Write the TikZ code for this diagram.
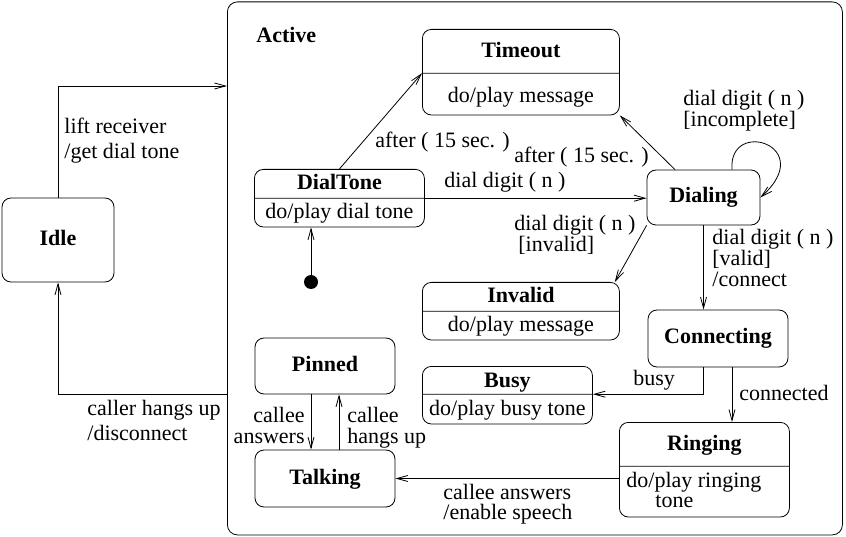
\documentclass[tikz,border=0pt]{standalone}
\usepackage{fontspec}
\setmainfont{Liberation Serif}
\usetikzlibrary{arrows.meta,shapes.multipart}
\newcommand\figfont{\fontsize{22}{21}\selectfont}
\newcommand\partstrut[2]{\rule[-#2pt]{0pt}{\dimexpr#1pt+#2pt\relax}}

\begin{document}
\begin{tikzpicture}[
  x=1pt, y=-1pt,
  line width=0.8pt,
  >={Straight Barb[length=11pt,width=6pt]},
  font=\figfont,
  sstate/.style={draw, rounded corners=9pt, inner sep=0pt, text height=15pt, text depth=4pt, font=\figfont\bfseries},
  cstate/.style={draw, rounded corners=9pt, rectangle split, rectangle split parts=2, inner xsep=2pt, inner ysep=0pt, anchor=north west},
  lbl/.style={inner sep=0pt, align=left, anchor=base west},
  node distance=112.5pt
]
\useasboundingbox (0,0) rectangle (846,537);

% composite state
\node[draw, rounded corners=10pt, minimum width=615pt, minimum height=533pt, anchor=north west] (active) at (227,1.5) {};
\node[lbl, font=\figfont\bfseries] (activelbl) at (256,43) {Active};

% states
\node[sstate, minimum width=112pt, minimum height=84pt] (idle) at (58,240) {Idle};
\node[cstate, minimum width=170pt] (dialtone) at (254,169) {\textbf{DialTone}\partstrut{20}{8}\nodepart{two}do/play dial tone\partstrut{20}{8}};
\node[cstate, minimum width=197pt] (timeout) at (422,29) {\textbf{Timeout}\partstrut{28}{15}\nodepart{two}do/play message\partstrut{29}{12}};
\node[sstate, minimum width=113pt, minimum height=55pt] (dialing) at (703.5,197.5) {Dialing};
\node[cstate, minimum width=197pt] (invalid) at (422,282) {\textbf{Invalid}\partstrut{20}{8}\nodepart{two}do/play message\partstrut{20}{8}};
\node[sstate, minimum width=140pt, minimum height=57pt] (connecting) at (718,338.5) {Connecting};
\node[cstate, minimum width=170pt] (busy) at (422,366) {\textbf{Busy}\partstrut{21}{6}\nodepart{two}do/play busy tone\partstrut{21}{8}};
\node[cstate, minimum width=170pt, inner xsep=7pt] (ringing) at (619,422) {\textbf{Ringing}\partstrut{28}{15}\nodepart{two}\parbox[t]{156pt}{do/play ringing\\[-1pt]\hspace*{29pt}tone}\partstrut{21}{29}};
\node[sstate, minimum width=140pt, minimum height=56pt] (pinned) at (325,366) {Pinned};
\node[sstate, minimum width=140pt, minimum height=57pt, below of=pinned] (talking) {Talking};
\node[fill, circle, inner sep=0pt, minimum size=14pt] (init) at (311,282) {};

% transitions
\draw[->] (idle.north) |- (active.west |- 0,86);
\draw[->] (active.west |- pinned.south) -| (idle.south);
\draw[->] (init) -- (init |- dialtone.south);
\draw[->] (dialtone.north) -- (timeout.text split west);
\draw[->] (dialtone.text split east) -- (dialtone.text split east -| dialing.west);
\draw[->] ([xshift=-28.5pt]dialing.north) -- (timeout.south east);
\draw[->] ([xshift=28.5pt]dialing.north) .. controls +(-4,-52) and +(58,-52) .. (dialing.east);
\draw[->] (dialing.south west) -- ([xshift=-5pt]invalid.north east);
\draw[->] (dialing.south) -- (dialing.south |- connecting.north);
\draw[->] (dialing.south |- connecting.south) |- (busy.text split east);
\draw[->] ([xshift=14pt]connecting.south) -- ([xshift=14pt]connecting.south |- ringing.north);
\draw[->] (ringing.west |- talking.east) -- (talking.east);
\draw[->] ([xshift=-14pt]pinned.south) -- ([xshift=-14pt]pinned.south |- talking.north);
\draw[->] ([xshift=14pt]talking.north) -- ([xshift=14pt]talking.north |- pinned.south);

% labels (base = last line)
\node[lbl] (liftlbl) at (64,159) {lift receiver\\[4pt]/get dial tone};
\node[lbl] (hangslbl) at (87,440) {caller hangs up\\[4pt]/disconnect};
\node[lbl] (after1lbl) at (375,148) {after ( 15 sec. )};
\node[lbl] (after2lbl) at (514,163) {after ( 15 sec. )};
\node[lbl] (digitlbl) at (444,188) {dial digit ( n )};
\node[lbl] (incompletelbl) at (683,127) {dial digit ( n )\\{[incomplete]}};
\node[lbl] (invalidlbl) at (514,252) {dial digit ( n )\\{\hspace*{4pt}[invalid]}};
\node[lbl] (validlbl) at (712,287) {dial digit ( n )\\{[valid]}\\/connect};
\node[lbl] (busylbl) at (633,385) {busy};
\node[lbl] (connectedlbl) at (739,400) {connected};
\node[lbl] (speechlbl) at (443,519) {callee answers\\[-1pt]/enable speech};
\node[lbl, align=right, anchor=base east] (answerslbl) at (305,443) {callee\\answers};
\node[lbl] (hangsuplbl) at (347,443) {callee\\hangs up};
\end{tikzpicture}
\end{document}
